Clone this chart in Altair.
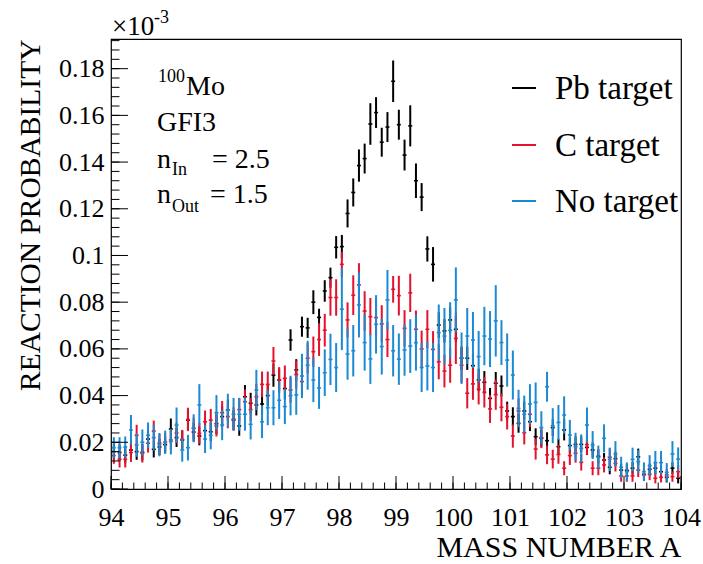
import altair as alt
import pandas as pd

# bin centres (0.1 wide bins from 94 to 104)
mass = [round(94.05 + 0.1 * i, 2) for i in range(100)]

series_names = ["Pb target", "C target", "No target"]
series_colors = ["#000000", "#e3122d", "#1b8ad3"]

pb_val = [0.016, 0.0156, 0.0145, 0.0167, 0.016, 0.0157, 0.0214, 0.017, 0.018, 0.019,
          0.0257, 0.022, 0.021, 0.0295, 0.0244, 0.0227, 0.025, 0.0245, 0.028, 0.031,
          0.0338, 0.0295, 0.027, 0.0395, 0.0367, 0.036, 0.0364, 0.040, 0.0488, 0.0467,
          0.043, 0.0638, 0.051, 0.0695, 0.069, 0.080, 0.0735, 0.0848, 0.0905, 0.1035,
          0.1038, 0.118, 0.127, 0.1385, 0.1415, 0.1563, 0.1612, 0.1485, 0.155, 0.1746,
          0.156, 0.143, 0.1555, 0.132, 0.125, 0.1028, 0.0962, 0.0702, 0.0677, 0.0724,
          0.0684, 0.056, 0.056, 0.0528, 0.0467, 0.0457, 0.0388, 0.0453, 0.0441, 0.0334,
          0.031, 0.0281, 0.0334, 0.0288, 0.0224, 0.0217, 0.0207, 0.0263, 0.0181, 0.0253,
          0.0186, 0.0191, 0.0191, 0.0178, 0.0167, 0.014, 0.0124, 0.0093, 0.013, 0.0081,
          0.008, 0.0089, 0.0138, 0.0063, 0.0084, 0.0089, 0.0074, 0.005, 0.0089, 0.0046]
pb_err = [0.0035, 0.0035, 0.0035, 0.0035, 0.0035, 0.0035, 0.004, 0.0035, 0.0035, 0.0035,
          0.0045, 0.004, 0.004, 0.0045, 0.004, 0.004, 0.004, 0.004, 0.0045, 0.0045,
          0.0045, 0.0042, 0.0042, 0.005, 0.0045, 0.0045, 0.0045, 0.0045, 0.005, 0.0048,
          0.0046, 0.0046, 0.0046, 0.0043, 0.0043, 0.0051, 0.0037, 0.0046, 0.0043, 0.0048,
          0.005, 0.006, 0.006, 0.0069, 0.0064, 0.0089, 0.0066, 0.0062, 0.0064, 0.0089,
          0.0064, 0.0066, 0.0088, 0.0074, 0.006, 0.0054, 0.0074, 0.0055, 0.005, 0.0055,
          0.0055, 0.005, 0.005, 0.005, 0.0048, 0.0048, 0.0045, 0.0048, 0.0045, 0.004,
          0.004, 0.004, 0.004, 0.004, 0.0036, 0.0036, 0.0036, 0.0036, 0.0034, 0.0045,
          0.0034, 0.0034, 0.0034, 0.0032, 0.0032, 0.003, 0.003, 0.003, 0.003, 0.0027,
          0.0027, 0.0027, 0.0035, 0.0025, 0.0025, 0.0025, 0.0025, 0.0022, 0.0025, 0.0022]

c_val = [0.0143, 0.0127, 0.0127, 0.0156, 0.023, 0.0153, 0.0196, 0.0248, 0.0196, 0.020,
         0.021, 0.024, 0.0213, 0.0298, 0.026, 0.0238, 0.0288, 0.0295, 0.027, 0.0327,
         0.031, 0.030, 0.034, 0.0374, 0.034, 0.0395, 0.0448, 0.0448, 0.0548, 0.0467,
         0.0474, 0.0424, 0.049, 0.046, 0.056, 0.0588, 0.064, 0.068, 0.082, 0.082,
         0.0962, 0.0724, 0.083, 0.0874, 0.0762, 0.0738, 0.0734, 0.0707, 0.064, 0.0855,
         0.0828, 0.0688, 0.084, 0.0684, 0.060, 0.0684, 0.0598, 0.0545, 0.0505, 0.053,
         0.0645, 0.053, 0.041, 0.045, 0.0427, 0.0414, 0.0343, 0.0404, 0.035, 0.031,
         0.0227, 0.0334, 0.0241, 0.032, 0.0171, 0.022, 0.0146, 0.0128, 0.0148, 0.0089,
         0.0143, 0.0153, 0.0114, 0.019, 0.0089, 0.0089, 0.0103, 0.0136, 0.011, 0.0056,
         0.0056, 0.0056, 0.0081, 0.006, 0.0063, 0.0046, 0.005, 0.006, 0.0053, 0.0074]
c_err = [0.0035, 0.0035, 0.0035, 0.004, 0.0045, 0.004, 0.004, 0.0045, 0.004, 0.004,
         0.004, 0.0045, 0.004, 0.005, 0.0045, 0.0045, 0.0048, 0.0048, 0.0045, 0.005,
         0.005, 0.005, 0.005, 0.0052, 0.005, 0.0055, 0.0055, 0.0055, 0.006, 0.0055,
         0.0055, 0.0055, 0.006, 0.0058, 0.0065, 0.0065, 0.007, 0.007, 0.0078, 0.0078,
         0.0054, 0.0075, 0.0085, 0.0093, 0.0085, 0.008, 0.008, 0.008, 0.0075, 0.0057,
         0.0085, 0.0078, 0.0082, 0.008, 0.0078, 0.0082, 0.0078, 0.0075, 0.007, 0.0075,
         0.011, 0.0075, 0.0065, 0.0068, 0.0065, 0.0065, 0.006, 0.0065, 0.006, 0.0055,
         0.005, 0.0055, 0.005, 0.0055, 0.0045, 0.0045, 0.004, 0.004, 0.004, 0.003,
         0.004, 0.004, 0.0035, 0.0045, 0.003, 0.003, 0.0032, 0.0038, 0.0035, 0.0025,
         0.0025, 0.0025, 0.003, 0.0025, 0.0025, 0.0022, 0.0022, 0.0025, 0.0022, 0.0028]

no_val = [0.0177, 0.0177, 0.018, 0.0253, 0.0188, 0.020, 0.023, 0.022, 0.019, 0.020,
          0.0203, 0.0274, 0.0167, 0.0177, 0.026, 0.036, 0.0214, 0.023, 0.0327, 0.0274,
          0.0338, 0.032, 0.032, 0.032, 0.0277, 0.0424, 0.0288, 0.0348, 0.0348, 0.038,
          0.0353, 0.040, 0.0403, 0.0484, 0.053, 0.0467, 0.0433, 0.0498, 0.0555, 0.052,
          0.077, 0.0578, 0.0592, 0.0788, 0.0627, 0.0557, 0.0705, 0.061, 0.081, 0.0592,
          0.0556, 0.0595, 0.0612, 0.0627, 0.052, 0.0527, 0.052, 0.067, 0.0655, 0.068,
          0.081, 0.056, 0.0655, 0.0638, 0.0567, 0.0655, 0.0642, 0.072, 0.0627, 0.0552,
          0.0488, 0.0345, 0.032, 0.0364, 0.0371, 0.0263, 0.0438, 0.0271, 0.0285, 0.0317,
          0.0231, 0.0181, 0.0174, 0.0274, 0.0188, 0.0136, 0.0217, 0.0127, 0.015, 0.0093,
          0.0074, 0.0127, 0.0117, 0.0074, 0.010, 0.0113, 0.0113, 0.0071, 0.015, 0.0128]
no_err = [0.0045, 0.0045, 0.0045, 0.0064, 0.005, 0.0055, 0.0055, 0.0055, 0.005, 0.005,
          0.0055, 0.0075, 0.005, 0.0055, 0.006, 0.0089, 0.006, 0.006, 0.0075, 0.0065,
          0.007, 0.007, 0.007, 0.007, 0.0065, 0.0086, 0.007, 0.0075, 0.0075, 0.008,
          0.0075, 0.0085, 0.0085, 0.0095, 0.0105, 0.0095, 0.009, 0.01, 0.011, 0.0105,
          0.0175, 0.011, 0.011, 0.0139, 0.012, 0.0107, 0.0125, 0.012, 0.0128, 0.011,
          0.011, 0.011, 0.0115, 0.012, 0.0105, 0.0105, 0.0105, 0.012, 0.012, 0.012,
          0.0139, 0.011, 0.012, 0.012, 0.011, 0.0125, 0.012, 0.0153, 0.0096, 0.0114,
          0.0105, 0.008, 0.008, 0.0085, 0.0085, 0.007, 0.0064, 0.0075, 0.0075, 0.008,
          0.0065, 0.006, 0.006, 0.0075, 0.006, 0.005, 0.006, 0.005, 0.0055, 0.0045,
          0.004, 0.005, 0.005, 0.004, 0.0045, 0.005, 0.005, 0.004, 0.0055, 0.005]

x_ticks = list(range(94, 105))
y_ticks = [0, 0.02, 0.04, 0.06, 0.08, 0.1, 0.12, 0.14, 0.16, 0.18]
x_minor = [round(94 + 0.2 * i, 2) for i in range(51)]
y_minor = [round(0.004 * i, 3) for i in range(49)]

FONT = "Liberation Serif"
W, H = 570, 450
xs = alt.Scale(domain=[94, 104], nice=False, zero=False)
ys = alt.Scale(domain=[0, 0.1927], nice=False, zero=False)

x_axis = alt.Axis(values=x_ticks, ticks=False, domain=False, grid=False,
                  labelFont=FONT, labelFontSize=26, labelColor="black",
                  labelPadding=15, labelFlush=False, labelOverlap=False,
                  title="MASS NUMBER A", titleFont=FONT, titleFontSize=30,
                  titleFontWeight="normal", titleColor="black",
                  titleAlign="right", titleX=W, titleY=67, titleBaseline="alphabetic")
y_axis = alt.Axis(values=y_ticks, format=".2~f", ticks=False, domain=False, grid=False,
                  labelFont=FONT, labelFontSize=26, labelColor="black",
                  labelPadding=7, labelFlush=False, labelOverlap=False,
                  title="REACTION PROBABILITY", titleFont=FONT, titleFontSize=29.5,
                  titleFontWeight="normal", titleColor="black", titleAngle=270,
                  titleAlign="right", titleX=-81, titleY=0, titleBaseline="middle")

layers = []
for name, col, vals, errs in [
    (series_names[0], series_colors[0], pb_val, pb_err),
    (series_names[1], series_colors[1], c_val, c_err),
    (series_names[2], series_colors[2], no_val, no_err),
]:
    df = pd.DataFrame({"m": mass, "v": vals, "e": errs})
    base = alt.Chart(df).transform_calculate(
        lo="datum.v - datum.e", hi="datum.v + datum.e",
        xl="datum.m - 0.035", xr="datum.m + 0.035")
    vert = base.mark_rule(color=col, strokeWidth=2, clip=True).encode(
        x=alt.X("m:Q", scale=xs, axis=x_axis),
        y=alt.Y("lo:Q", scale=ys, axis=y_axis),
        y2="hi:Q")
    horiz = base.mark_rule(color=col, strokeWidth=1.6, clip=True).encode(
        x=alt.X("xl:Q", scale=xs, axis=x_axis), x2="xr:Q",
        y=alt.Y("v:Q", scale=ys, axis=y_axis))
    layers += [vert, horiz]

# inner ticks
tx_major = alt.Chart(pd.DataFrame({"t": x_ticks})).mark_rule(color="black", strokeWidth=1).encode(
    x=alt.X("t:Q", scale=xs, axis=x_axis), y=alt.value(H), y2=alt.value(H - 13))
tx_minor = alt.Chart(pd.DataFrame({"t": x_minor})).mark_rule(color="black", strokeWidth=1).encode(
    x=alt.X("t:Q", scale=xs, axis=x_axis), y=alt.value(H), y2=alt.value(H - 6.5))
ty_major = alt.Chart(pd.DataFrame({"t": y_ticks})).mark_rule(color="black", strokeWidth=1).encode(
    y=alt.Y("t:Q", scale=ys, axis=y_axis), x=alt.value(0), x2=alt.value(17))
ty_minor = alt.Chart(pd.DataFrame({"t": y_minor})).mark_rule(color="black", strokeWidth=1).encode(
    y=alt.Y("t:Q", scale=ys, axis=y_axis), x=alt.value(0), x2=alt.value(8.5))


def txt(s, x, y, size, color="black", baseline="alphabetic"):
    return alt.Chart(alt.Data(values=[{"t": s}])).mark_text(
        font=FONT, fontSize=size, color=color, align="left", baseline=baseline
    ).encode(x=alt.value(x), y=alt.value(y), text="t:N")


annot = [
    txt("×10", 1, -4, 27),
    txt("-3", 43, -16, 18),
    txt("100", 47, 43, 18),
    txt("Mo", 75, 56, 28),
    txt("GFI3", 46, 92, 28),
    txt("n", 46, 129, 28),
    txt("In", 61, 136, 18),
    txt("= 2.5", 101, 129, 28),
    txt("n", 46, 164, 28),
    txt("Out", 61, 173, 18),
    txt("= 1.5", 99, 164, 28),
]

leg = []
for i, (name, col) in enumerate(zip(series_names, series_colors)):
    yy = [49, 106, 162][i]
    leg.append(alt.Chart(alt.Data(values=[{"a": 1}])).mark_rule(color=col, strokeWidth=2).encode(
        x=alt.value(401), x2=alt.value(425), y=alt.value(yy)))
    leg.append(txt(name, 444, yy + 1, 33, baseline="middle"))

chart = alt.layer(*layers, tx_major, tx_minor, ty_major, ty_minor, *annot, *leg).properties(
    width=W, height=H, padding={"left": 111, "top": 39, "right": 22, "bottom": 75},
    autosize=alt.AutoSizeParams(type="none"),
    background="white"
).configure_view(stroke="black", strokeWidth=1.2)

chart.save("out.html", embed_options={"renderer": "svg", "actions": False})
